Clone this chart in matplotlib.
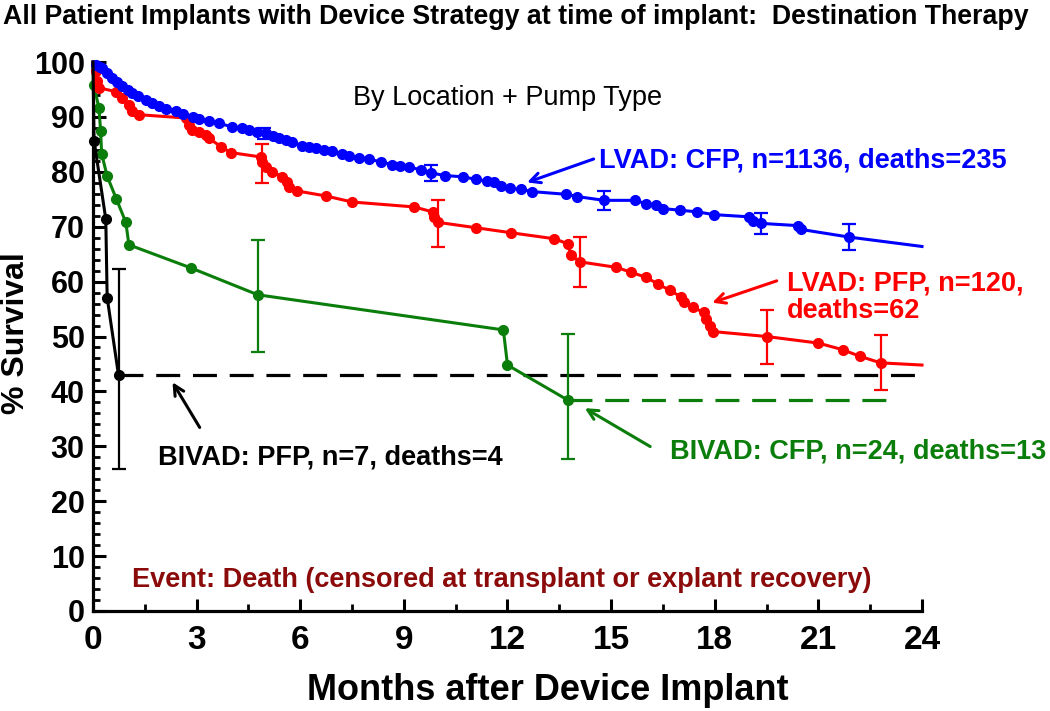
import numpy as np
import matplotlib
matplotlib.use('Agg')
import matplotlib.pyplot as plt
from matplotlib.ticker import MultipleLocator

plt.rcParams['font.family'] = ['Liberation Sans', 'DejaVu Sans']
plt.rcParams['font.weight'] = 'bold'

# LVAD: CFP (laatste punt = lijn loopt door tot 24 mnd, zonder marker)
blue_x = [0, 0.1, 0.2, 0.27, 0.4, 0.55, 0.7, 0.84, 1.0, 1.13, 1.3, 1.53, 1.7, 1.91,
          2.1, 2.4, 2.6, 2.9, 3.07, 3.36, 3.65, 4.03, 4.3, 4.52, 4.75, 5.0, 5.2,
          5.39, 5.6, 5.77, 6.06, 6.25, 6.45, 6.7, 6.93, 7.2, 7.42, 7.7, 8.0, 8.33,
          8.67, 8.9, 9.16, 9.5, 9.79, 10.2, 10.7, 11.1, 11.4, 11.6, 11.8, 12.06,
          12.4, 12.7, 13.7, 14.0, 14.8, 15.7, 16.0, 16.3, 16.5, 17.0, 17.5, 17.97,
          19.0, 19.1, 19.35, 20.4, 20.5, 21.9, 24.0]
blue_y = [100, 99.5, 99.1, 98.9, 98.0, 97.1, 96.3, 95.6, 94.9, 94.3, 93.8, 93.1, 92.6,
          91.9, 91.5, 91.0, 90.6, 90.0, 89.7, 89.2, 88.8, 88.2, 87.9, 87.6, 87.3, 87.0,
          86.5, 86.1, 85.8, 85.5, 84.7, 84.5, 84.3, 84.0, 83.7, 83.3, 82.9, 82.6, 82.3,
          81.8, 81.3, 81.1, 80.9, 80.3, 79.8, 79.3, 79.1, 78.6, 78.3, 78.1, 77.4, 77.0,
          76.8, 76.4, 75.9, 75.5, 74.8, 74.8, 74.2, 73.9, 73.3, 73.0, 72.7, 72.2, 71.8,
          71.1, 70.6, 70.2, 69.5, 68.1, 66.4]

# LVAD: PFP
red_x = [0, 0.08, 0.12, 0.17, 0.66, 0.84, 1.04, 1.13, 1.33, 2.68, 2.78, 2.88, 3.07,
         3.26, 3.36, 3.7, 3.99, 4.86, 4.9, 5.0, 5.19, 5.48, 5.62, 5.68, 5.92, 6.74, 7.5,
         9.3, 9.83, 9.88, 9.98, 11.1, 12.1, 13.36, 13.74, 13.85, 14.09, 15.15, 15.58,
         16.0, 16.35, 16.7, 17.03, 17.1, 17.37, 17.68, 17.76, 17.85, 17.95, 19.5, 21.0,
         21.7, 22.2, 22.8, 24.0]
red_y = [100, 98.3, 96.5, 95.3, 94.6, 93.4, 92.2, 91.0, 90.4, 89.8, 88.5, 87.6, 87.3,
         86.7, 86.1, 84.6, 83.5, 82.7, 81.8, 80.9, 80.0, 79.1, 78.2, 77.3, 76.5, 75.6,
         74.5, 73.6, 72.7, 71.8, 70.8, 69.8, 68.9, 67.8, 66.9, 64.8, 63.6, 62.6, 61.7,
         60.8, 59.6, 58.4, 57.2, 56.3, 55.3, 54.4, 53.2, 52.0, 50.9, 50.0, 48.8, 47.6,
         46.4, 45.2, 44.8]

# BIVAD: CFP
green_x = [0, 0.02, 0.17, 0.22, 0.25, 0.41, 0.68, 0.95, 1.04, 2.83, 4.77, 11.88, 12.0, 13.75]
green_y = [100, 95.8, 91.7, 87.5, 83.3, 79.2, 75.0, 70.8, 66.7, 62.5, 57.6, 51.2, 44.8, 38.4]
green_tail_end = 23.0

# BIVAD: PFP
black_x = [0, 0.03, 0.37, 0.41, 0.74]
black_y = [100, 85.7, 71.4, 57.1, 42.9]
black_tail_end = 24.0

# betrouwbaarheidsintervallen
blue_err_x = [4.96, 9.79, 14.8, 19.35, 21.9]
blue_err_y = [87.0, 79.8, 74.8, 70.6, 68.1]
blue_err_lo = [86.0, 78.4, 73.1, 68.7, 65.7]
blue_err_hi = [88.0, 81.2, 76.5, 72.5, 70.5]

red_err_x = [4.9, 9.98, 14.09, 19.5, 22.8]
red_err_y = [81.8, 70.8, 63.6, 50.0, 45.2]
red_err_lo = [77.9, 66.3, 59.0, 45.0, 40.2]
red_err_hi = [85.0, 74.8, 68.1, 54.9, 50.3]

green_err_x = [4.77, 13.75]
green_err_y = [57.6, 38.4]
green_err_lo = [47.2, 27.6]
green_err_hi = [67.5, 50.5]

black_err_x = [0.74]
black_err_y = [42.9]
black_err_lo = [25.8]
black_err_hi = [62.3]

GREEN = '#0a7d0a'
DARKRED = '#8b0a0a'

fig = plt.figure(figsize=(10.5, 7.11), dpi=100)
ax = fig.add_axes([93 / 1050, 1 - 611 / 711, (922 - 93) / 1050, (611 - 62) / 711])


def curve(x, y, color, z, last_marker=True):
    ax.plot(x, y, color=color, lw=2.2, zorder=z, clip_on=False)
    mx = x if last_marker else x[:-1]
    my = y if last_marker else y[:-1]
    ax.plot(mx[1:], my[1:], 'o', color=color, ms=7, zorder=z, clip_on=False)


def errbars(x, y, lo, hi, color, z):
    y = np.array(y)
    yerr = [y - np.array(lo), np.array(hi) - y]
    ax.errorbar(x, y, yerr=yerr, fmt='none', ecolor=color, elinewidth=1.6,
                capsize=5, capthick=1.6, zorder=z)


curve(green_x, green_y, GREEN, 3)
ax.plot([green_x[-1], green_tail_end], [green_y[-1], green_y[-1]], color=GREEN,
        lw=2.3, dashes=(7.5, 4), zorder=3)
errbars(green_err_x, green_err_y, green_err_lo, green_err_hi, GREEN, 3)

curve(red_x, red_y, 'red', 4, last_marker=False)
errbars(red_err_x, red_err_y, red_err_lo, red_err_hi, 'red', 4)

curve(blue_x, blue_y, 'blue', 5, last_marker=False)
errbars(blue_err_x, blue_err_y, blue_err_lo, blue_err_hi, 'blue', 5)

curve(black_x, black_y, 'black', 6)
ax.plot([black_x[-1], black_tail_end], [black_y[-1], black_y[-1]], color='black',
        lw=2.3, dashes=(7.5, 4), zorder=2, clip_on=False)
errbars(black_err_x, black_err_y, black_err_lo, black_err_hi, 'black', 6)

# assen
ax.set_xlim(0, 24)
ax.set_ylim(0, 100)
ax.spines['top'].set_visible(False)
ax.spines['right'].set_visible(False)
ax.spines['left'].set_linewidth(2.3)
ax.spines['bottom'].set_linewidth(2.3)
ax.xaxis.set_major_locator(MultipleLocator(3))
ax.xaxis.set_minor_locator(MultipleLocator(1.5))
ax.yaxis.set_major_locator(MultipleLocator(10))
ax.yaxis.set_minor_locator(MultipleLocator(2))
ax.tick_params(which='major', direction='in', length=9, width=2.2)
ax.tick_params(which='minor', direction='in', length=5, width=2.0)
ax.tick_params(axis='x', labelsize=24, pad=10)
ax.tick_params(axis='y', labelsize=22, pad=6)
for lbl in ax.get_xticklabels() + ax.get_yticklabels():
    lbl.set_fontweight('bold')

# teksten
fig.text(516 / 1050, 1 - 17 / 711, 'All Patient Implants with Device Strategy at time of implant:  Destination Therapy',
         ha='center', va='center', fontsize=19.3, fontweight='bold')
fig.text(548 / 1050, 1 - 690 / 711, 'Months after Device Implant', ha='center', va='center',
         fontsize=26, fontweight='bold')
fig.text(16 / 1050, 1 - 333 / 711, '% Survival', ha='center', va='center', rotation=90,
         fontsize=23, fontweight='bold')

ax.text(11.99, 93.4, 'By Location + Pump Type', ha='center', va='center',
        fontsize=19.5, fontweight='normal')
ax.text(14.66, 82.1, 'LVAD: CFP, n=1136, deaths=235', color='blue', fontsize=19.5,
        fontweight='bold', va='center', ha='left', clip_on=False)
ax.text(20.08, 59.7, 'LVAD: PFP, n=120,', color='red', fontsize=19.5,
        fontweight='bold', va='center', ha='left', clip_on=False)
ax.text(20.08, 54.6, 'deaths=62', color='red', fontsize=19.5,
        fontweight='bold', va='center', ha='left', clip_on=False)
ax.text(16.69, 29.0, 'BIVAD: CFP, n=24, deaths=13', color=GREEN, fontsize=19.5,
        fontweight='bold', va='center', ha='left', clip_on=False)
ax.text(1.87, 27.9, 'BIVAD: PFP, n=7, deaths=4', color='black', fontsize=19.5,
        fontweight='bold', va='center', ha='left')
ax.text(1.14, 5.6, 'Event: Death (censored at transplant or explant recovery)',
        color=DARKRED, fontsize=19.5, fontweight='bold', va='center', ha='left')

# pijlen
arrow = dict(arrowstyle='->', lw=2.2, mutation_scale=18)
ax.annotate('', xy=(12.49, 77.9), xytext=(14.57, 82.5), arrowprops=dict(arrow, color='blue'))
ax.annotate('', xy=(17.85, 56.0), xytext=(19.87, 60.3), arrowprops=dict(arrow, color='red'))
ax.annotate('', xy=(14.17, 37.2), xytext=(16.2, 29.7), arrowprops=dict(arrow, color=GREEN))
ax.annotate('', xy=(2.26, 42.1), xytext=(3.13, 33.0), arrowprops=dict(arrow, color='black'))

plt.savefig('out.png', dpi=100)
